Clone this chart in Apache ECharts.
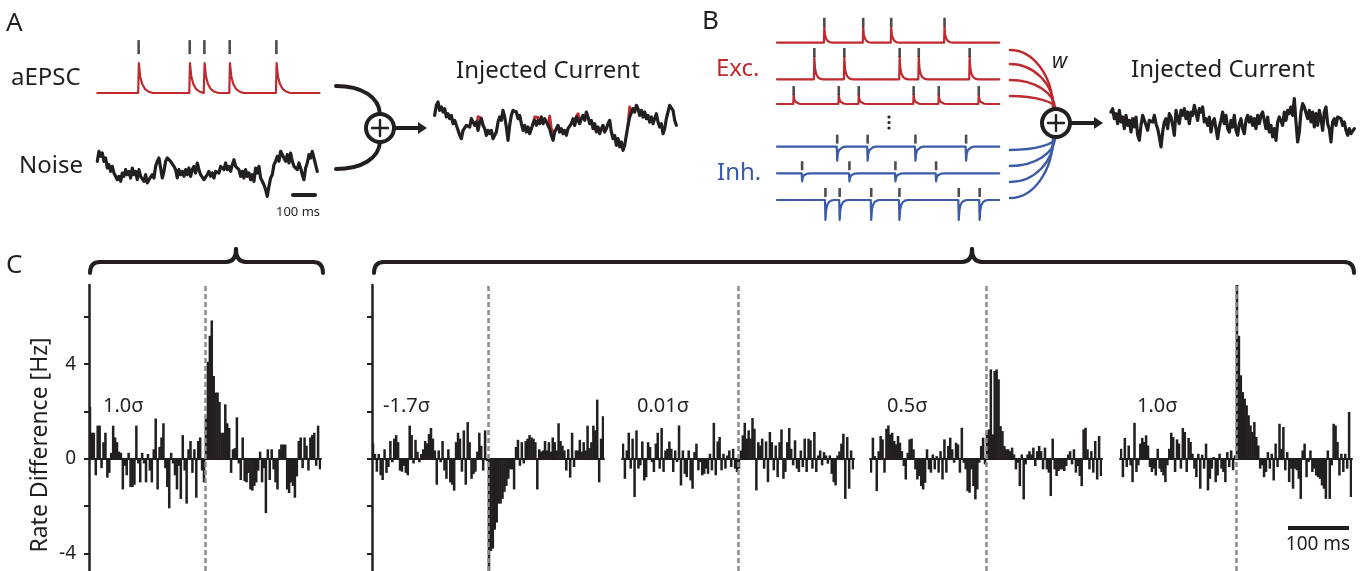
<!DOCTYPE html>
<html>
<head>
<meta charset="utf-8">
<script src="https://cdn.jsdelivr.net/npm/echarts@6/dist/echarts.min.js"></script>
<style>
html, body { margin: 0; padding: 0; background: #fff; }
#chart { width: 1362px; height: 571px; }
</style>
</head>
<body>
<div id="chart"></div>
<script>
// ---------- data ----------
// A: noise trace, injected current (7.5 ms samples, arbitrary current units)
var noiseA = [3,6,4.5,5.5,3,4,1,2,0,1.5, -0.5,-1,-2.5,-1.5,-3,-0.5,-1.5,0.5,-1,0, -2,1,-1,0,-2.5,0.5,-1.5,-1,-3,-1,
  -3.5,-2.5,-3,-1,-2,1.5,3,4,1,-2, 0,3,4,4.5,3,2.5,1.5,0.5,-2,0.5, -1,0,-1.5,0.5,-1,1,-1.5,0.5,1.5,-0.5,
  2.5,0.5,-1,-0.5,-2.5,-3,-1,0,-1.5,-0.5, -2,0,0.5,-0.5,1.5,2,0.5,2.5,0.5,1.5, 0,2,3.5,1.5,2,0.5,-1.5,0,-2,0.5,
  -1.5,-0.5,-2.5,-1,-3,1,-0.5,1.5,-2,-3, -4,-5.5,-7.5,-4.5,-2,-1,2,3,4.5,3, 6,5,4,3,5,2.5,5.5,3,1.5,2,
  0.5,2.5,1,-1,-2.5,1,2.5,5,4,6, 4,2,0];
var injectedA = [3,6,7,4.5,5.5,4,5,2.5,3.5,2, 3,0.5,1.5,0,0.5,-3,-4,-1.5,-2,0, 0.5,-0.5,2,2.5,0,1,-1.5,1,2,0,
  -1,-3,-1.5,-2.5,-1.5,-4,-3,-2,1,2.5, 1.5,4.5,2.5,-0.5,-4.5,0,3,4.5,5,4, 2,3,0.5,-1.5,0,-2,-0.5,-2.5,-1,0.5,
  1.5,0,1.5,0.5,2.5,0.5,2,1,0,-1, -3,-4.5,-2,-1.5,0,-2,-1,-2.5,-1.5,-3, -1,-0.5,0.5,2,0,2.5,1.5,0.5,2,3,
  1.5,4,2.5,0.5,1.5,-1,0.5,-2,-0.5,-2.5, -1,0,-2,-1,0.5,1.5,-2,-4,-3,-6, -4,-6.5,-5,-7.5,-6,-3,0,2.5,2,5,
  4,6,5,3,4.5,2.5,4,2,3,1, 2.5,0.5,1,3.5,1,-0.5,0.5,-2.5,-1,2, 4,6,6.5,4.5,1.5,0];
// red aEPSC tips that show under the black injected trace: [sample index, value]
var injectedARed = [
  [[25,0],[26,2.6],[27,2.8],[28,2.2],[29,0]],
  [[59,0.5],[60,2.5],[61,2.6],[62,2.4],[63,0.5]],
  [[68,0],[69,2.8],[70,-1],[71,-2]],
  [[84,0],[85,2.6],[86,3.5],[87,1.5],[88,2]],
  [[116,0],[117,5.5],[118,4],[119,5]]
];
var aepscSpikes = [184, 414, 480, 594, 804];   // ms
// B: presynaptic spike times (ms) and weights
var excSpikes = [[211, 386, 512, 752], [166, 301, 550, 636, 865], [73, 276, 366, 613, 726, 906]];
var inhSpikes = [[269, 406, 621, 849], [111, 324, 531, 714], [216, 280, 422, 549, 816, 910]];
var excAmp = [0.57, 0.8, 0.32];
var inhAmp = [-0.5, -0.29, -0.71];
var injectedB = [4,5,2,3.5,0.5,4.5,1,2.5,-1,3, 0,1.5,-2,2,-0.5,2.5,-3,-4.5,0,3, 3.5,0,-1.5,1.5,2,1,3,0.5,-1,-3.5,
  -6.5,-2,1,2,-1,3.5,2.5,0,-3,4.5, 2,0.5,4.5,3,5,2,4,0.5,4,3, 6,5.5,1.5,5,4,5.5,1,2,0,2.5,
  -2,1,2,-1,-4,-0.5,1.5,4,0.5,3, -1,-2,1.5,-0.5,3,-1.5,-3,0.5,2,-1, -2.5,1.5,3,1,2.5,0,2,-1,3,0.5,
  3,4,1.5,-1,2.5,-2,0,-3.5,-1,-4.5, 1,2.5,3,0,4,1.5,4.5,3.5,5.5,3, 8,1,-5,-2,4,6.5,5.5,5,2,4.5,
  1,4,-0.5,3.5,0,4.5,2,-1.5,4,5.5, 0.5,-1,-5,1,2,0,2.5,3,2,0, 1,-1.5,-3,-1,-2.5,-2,-1];
// EPSC shapes: time after spike (ms) and relative size
var kernelAT = [0, 3, 9, 18, 30, 45, 65];
var kernelAV = [0, 1, 0.55, 0.3, 0.14, 0.05, 0];
var kernelBT = [0, 2, 5, 10, 17, 27, 40];
var kernelBV = [0, 1, 0.5, 0.25, 0.11, 0.03, 0];

// C: rate difference [Hz], 3 ms bins, 60 before and 60 after the event
var panelLabels = ['1.0σ', '-1.7σ', '0.01σ', '0.5σ', '1.0σ'];
var ratePre = [
  [2.2,1.1,1.1,-0.7,1.4,1.4,-0.4,0.7,1.1,-0.8, -0.6,0.25,1.4,0.9,0.7,0.3,0.25,-1.3,-0.3,-0.7, 0.25,-1.2,-1.2,-1.1,1.4,-0.2,-1.0,0.25,-0.2,-1.0,
   0.2,-0.5,-1.0,0.4,1.7,-1.3,0.5,0.9,1.5,-0.4, -1.2,-2.1,0.25,-0.2,-0.7,-1.3,-0.3,-1.7,1.0,-0.5, -1.9,0.4,0.75,-0.6,0.4,-1.65,0.75,0.9,-0.5,-1.0],
  [0.65,0.2,-0.55,0.2,-0.7,-0.9,0.4,-0.6,-0.35,0.75, -0.15,0.85,1.0,0.7,-0.5,-0.55,-0.3,-0.6,-0.7,1.4, 1.0,-0.2,0.8,0.3,-0.15,0.2,0.4,0.75,0.65,1.05,
   1.3,0.85,0.35,-1.1,0.35,-0.15,0.75,-0.5,-0.85,0.4, -1.0,-1.1,-1.35,0.7,1.1,0.85,-0.55,1.2,-1.1,1.55, 0.7,-0.85,-0.65,-0.55,0.3,1.1,0.55,-0.5,1.2,-0.1],
  [0.64,-0.85,0.35,1.1,-0.42,0.85,-1.62,1.2,-0.42,-0.28, 0.73,-0.92,-0.78,0.7,0.5,-0.14,-0.56,0.64,1.1,-0.42, 1.3,-0.56,0.35,0.42,0.73,0.42,-0.56,0.35,-0.14,1.41,
   -1.13,0.35,-0.64,-0.78,0.35,-0.92,-1.27,0.28,0.64,-0.49, -0.14,-0.7,-0.64,-0.42,-0.64,0.21,-0.49,1.52,-0.7,0.73, 0.92,-0.49,0.21,-0.42,0.14,0.35,-0.35,0.42,-0.42,-0.56],
  [-0.59,0.89,0.11,-1.37,0.32,0.96,0.82,-0.59,1.27,1.41, 1.03,1.1,0.75,0.61,0.96,0.68,0.32,-0.31,-0.88,0.25, 0.82,0.85,0.4,-0.45,-0.88,-0.73,-1.16,-1.3,-1.02,0.4,
   -0.45,-0.59,0.18,-0.45,0.11,-0.59,0.32,-0.88,0.82,-0.59, 0.54,0.89,0.4,-0.17,0.68,0.61,-0.59,1.31,-0.17,-0.45, -1.37,-1.44,-0.45,-1.16,-1.72,-1.3,-0.17,0.54,0.89,-0.24],
  [0.42,-0.78,0.88,-0.35,0.56,-0.28,-0.99,1.52,-0.56,-0.28, 0.64,0.88,0.71,0.99,0.56,-0.35,-0.56,-0.42,-0.71,0.42, -0.42,-0.56,-0.71,-0.99,-0.28,0.42,1.1,0.92,-0.56,0.82,
   0.64,-0.42,1.3,1.13,-0.56,0.88,0.71,0.21,-0.42,-0.78, 0.21,-1.27,0.17,-0.42,0.64,-1.34,-0.85,-0.42,0.07,-0.99, -0.71,0.21,-0.42,-0.56,-0.99,0.28,-0.35,0.35,-0.49,0.14]
];
var ratePost = [
  [1.7,4.1,5.2,5.85,3.5,2.8,2.8,2.4,1.1,1.1, 2.3,1.5,1.3,-0.6,0.4,0.45,1.75,-0.2,-0.9,0.9, -0.95,-1.0,-0.6,-1.3,-1.35,-1.15,-1.0,-0.5,0.3,-1.0,
   -0.4,-2.3,0.4,-0.9,0.4,-0.45,-1.0,-1.3,0.4,0.6, 0.6,0.6,-1.3,-1.45,-1.0,-1.15,-1.65,-0.75,0.75,0.9, -0.4,0.9,0.55,-0.5,0.9,1.0,1.1,-0.3,1.4,-0.45],
  [-4.9,-3.9,-3.8,-3.0,-2.7,-1.9,-1.9,-1.7,-1.4,-1.15, -0.85,-0.45,-0.45,-1.3,0.5,0.8,-0.3,0.7,-0.2,0.75, 0.85,1.0,0.9,0.85,0.7,-1.3,0.4,0.3,0.35,0.75,
   0.35,0.7,0.3,0.9,0.7,0.35,1.5,0.75,0.55,0.35, -0.5,0.4,-0.8,1.1,-0.35,0.35,0.35,0.8,0.3,0.7, 0.35,1.4,0.45,0.7,1.4,1.2,2.5,-1.0,0.85,1.8],
  [-0.42,0.35,0.99,1.52,0.85,1.2,0.85,1.72,1.27,-1.34, 0.7,0.56,0.85,-0.42,0.73,-0.99,1.13,0.7,-0.49,0.56, -0.78,0.7,1.24,-0.85,-0.56,0.7,1.3,0.42,-0.28,0.78,
   -0.42,-0.56,0.35,-0.35,0.85,-0.56,0.85,0.78,-0.42,1.13, -0.56,0.14,0.35,-0.28,0.28,0.14,-0.21,0.14,-0.64,-0.99, -1.13,0.14,0.31,0.64,1.06,-1.7,0.92,-1.27,0.35,-0.45],
  [1.1,1.24,3.78,1.03,3.71,3.78,3.36,1.38,1.17,0.54, 0.4,0.4,0.32,0.47,0.18,-0.45,-0.17,-1.16,0.18,-1.72, -0.24,0.18,0.32,0.18,0.47,-0.31,0.32,0.54,0.32,-0.45,
   0.47,-0.45,-0.59,-1.58,0.85,-0.45,-0.73,-0.52,-0.45,-0.45, -0.52,-0.31,0.18,0.32,-0.24,0.4,-0.59,-0.31,-0.73,-1.16, 1.24,1.31,0.4,-0.45,0.32,-0.59,0.75,-0.88,0.96,-0.73],
  [7.4,5.2,3.53,2.82,2.54,2.26,1.84,1.41,1.13,1.55, 0.92,0.56,-0.42,-0.28,-0.78,-0.56,0.28,-0.42,0.21,-0.92, 0.64,-0.35,1.48,0.42,1.34,-0.49,0.28,-0.99,-0.42,-1.27,
   -0.42,-0.49,-0.85,-1.7,0.35,0.64,-0.78,-0.14,0.35,-0.56, -0.42,-0.71,-0.78,-0.85,-1.13,-1.27,-1.7,0.35,-1.7,-0.28, 1.48,1.41,0.71,-0.71,0.21,-0.56,0.21,-0.42,1.98,-1.62]
];
var yTicks = [-4, -2, 0, 2, 4, 6];
var yTickLabels = [-4, 0, 4];

// ---------- layout ----------
var FONT = '"Noto Sans", "DejaVu Sans", sans-serif';
var INK = '#231f20', RED = '#be2a2e', BLUE = '#3a5ba8', GREY = '#8c8c8c';
var DT = 7.5, PX_MS = 0.2222, BIN = 3;

var grids = [], xAxes = [], yAxes = [], series = [];
function addGrid(g, x, y) {
  grids.push(g);
  var i = grids.length - 1;
  x.gridIndex = i; y.gridIndex = i;
  xAxes.push(x); yAxes.push(y);
  return i;
}
function hidden(min, max) { return { type: 'value', show: false, min: min, max: max }; }
function line(gi, data, color, width, z) {
  series.push({ type: 'line', xAxisIndex: gi, yAxisIndex: gi, data: data, symbol: 'none', z: z || 2,
    lineStyle: { color: color, width: width, cap: 'round', join: 'round' }, silent: true });
}
function ticks(gi, spikes, level, h) {
  series.push({ type: 'scatter', xAxisIndex: gi, yAxisIndex: gi, symbol: 'rect', symbolSize: [2.6, h],
    data: spikes.map(function (s) { return [s + 2, level]; }), itemStyle: { color: INK }, silent: true });
}
function sampled(arr) { return arr.map(function (v, i) { return [i * DT, v]; }); }
function epsc(spikes, amp, kT, kV, tEnd) {
  var pts = [[0, 0]];
  spikes.forEach(function (s) {
    kT.forEach(function (t, j) { pts.push([s + t, amp * kV[j]]); });
  });
  pts.push([tEnd, 0]);
  return pts;
}
function traceGrid(left, top, height, n, ymin, ymax) {
  var span = (n - 1) * DT;
  return addGrid({ left: left, top: top, width: span * PX_MS, height: height }, hidden(0, span), hidden(ymin, ymax));
}

// A: aEPSC
var gA = addGrid({ left: 97.3, top: 36, width: 1000 * PX_MS, height: 60 }, hidden(0, 1000), hidden(-0.1, 1.9));
line(gA, epsc(aepscSpikes, 1, kernelAT, kernelAV, 1000), RED, 2.2);
ticks(gA, aepscSpikes, 1.53, 14);
// A: noise and injected current
line(traceGrid(97.3, 138, 64, noiseA.length, -9.2, 10), sampled(noiseA), INK, 3.2);
var gInjA = traceGrid(434.7, 92, 64, injectedA.length, -9.2, 10);
injectedARed.forEach(function (seg) {
  line(gInjA, seg.map(function (p) { return [p[0] * DT, p[1]]; }), RED, 2.8, 1);
});
line(gInjA, sampled(injectedA), INK, 3.2, 3);
// B: presynaptic trains
var rowBase = [42.7, 79.3, 104, 146.7, 173.3, 200];
[0, 1, 2].forEach(function (r) {
  var gi = addGrid({ left: 777, top: rowBase[r] - 32, width: 1000 * PX_MS, height: 56 }, hidden(0, 1000), hidden(-0.857, 1.143));
  line(gi, epsc(excSpikes[r], excAmp[r], kernelBT, kernelBV, 1000), RED, 2.2);
  ticks(gi, excSpikes[r], excAmp[r] + 0.16, 9);
});
[0, 1, 2].forEach(function (r) {
  var gi = addGrid({ left: 777, top: rowBase[r + 3] - 32, width: 1000 * PX_MS, height: 56 }, hidden(0, 1000), hidden(-0.857, 1.143));
  line(gi, epsc(inhSpikes[r], inhAmp[r], kernelBT, kernelBV, 1000), BLUE, 2.2);
  ticks(gi, inhSpikes[r], 0.27, 9);
});
line(traceGrid(1111, 92, 64, injectedB.length, -9.2, 10), sampled(injectedB), INK, 3.2);

// C: rate difference histograms, one rect per bin (slightly overlapping so runs read as solid)
function binRect(params, api) {
  var x = api.value(0), v = api.value(1);
  var a = api.coord([x - BIN / 2, v]), b = api.coord([x + BIN / 2, 0]);
  return { type: 'rect', shape: { x: a[0] - 0.3, y: Math.min(a[1], b[1]), width: b[0] - a[0] + 0.6, height: Math.abs(b[1] - a[1]) },
    style: { fill: INK } };
}
var panelLeft = [89, 372, 622, 870, 1120];
panelLeft.forEach(function (left, p) {
  var gi = addGrid({ left: left, top: 285, width: 232, bottom: 0 },
    { type: 'value', min: -180, max: 180,
      axisLine: { show: true, onZero: true, lineStyle: { color: INK, width: 2 } },
      axisTick: { show: false }, axisLabel: { show: false }, splitLine: { show: false } },
    { type: 'value', min: -4.75, max: 7.35,
      axisLine: { show: p < 2, onZero: false, lineStyle: { color: INK, width: 2.5 } },
      axisTick: { show: p < 2, customValues: yTicks, length: 5, lineStyle: { color: INK, width: 2 } },
      axisLabel: { show: p === 0, customValues: yTickLabels, margin: 13, color: INK, fontSize: 19, fontFamily: FONT },
      splitLine: { show: false } });
  var pre = ratePre[p], post = ratePost[p];
  var data = pre.map(function (v, i) { return [(i - pre.length + 0.5) * BIN, v]; })
    .concat(post.map(function (v, i) { return [(i + 0.5) * BIN, v]; }));
  series.push({ type: 'custom', xAxisIndex: gi, yAxisIndex: gi, data: data, renderItem: binRect, clip: true, z: 3,
    encode: { x: 0, y: 1 }, silent: true,
    markLine: { silent: true, symbol: 'none', label: { show: false }, animation: false,
      lineStyle: { color: GREY, type: [5, 3], width: 2.5 }, data: [{ xAxis: 0 }] } });
});

// ---------- annotations ----------
function txt(x, y, s, size, opts) {
  opts = opts || {};
  return { type: 'text', x: x, y: y, rotation: opts.rot || 0, z: 10, silent: true,
    style: { text: s, fill: opts.color || INK, fontSize: size, fontFamily: FONT, fontStyle: opts.italic ? 'italic' : 'normal',
      align: opts.align || 'left', textAlign: opts.align || 'left', verticalAlign: 'middle', textVerticalAlign: 'middle' } };
}
function stroke(color, w) { return { stroke: color, lineWidth: w, fill: null, lineCap: 'round' }; }
function seg(x1, y1, x2, y2, w) {
  return { type: 'line', silent: true, shape: { x1: x1, y1: y1, x2: x2, y2: y2 }, style: stroke(INK, w) };
}
function quad(x1, y1, cx, cy, x2, y2) {
  return { type: 'bezierCurve', silent: true, shape: { x1: x1, y1: y1, cpx1: cx, cpy1: cy, x2: x2, y2: y2 }, style: stroke(INK, 4) };
}
function brace(x0, x1, tip) {
  var y = 262;
  return [quad(x0, 273, x0, y, x0 + 10, y), seg(x0 + 10, y, tip - 10, y, 4), quad(tip - 10, y, tip, y, tip, 249),
    quad(tip, 249, tip, y, tip + 10, y), seg(tip + 10, y, x1 - 10, y, 4), quad(x1 - 10, y, x1, y, x1, 273)];
}
function curve(x1, y1, x2, y2, color) {
  return { type: 'bezierCurve', silent: true, shape: { x1: x1, y1: y1, cpx1: x1 + 0.55 * (x2 - x1), cpy1: y1,
    cpx2: x2, cpy2: y2 - 0.55 * (y2 - y1), x2: x2, y2: y2 }, style: stroke(color, 2.4) };
}
function summer(cx, cy) {
  return [
    { type: 'circle', silent: true, z: 5, shape: { cx: cx, cy: cy, r: 14 }, style: { stroke: INK, lineWidth: 4, fill: '#fff' } },
    { type: 'line', silent: true, z: 6, shape: { x1: cx - 8, y1: cy, x2: cx + 8, y2: cy }, style: stroke(INK, 2.4) },
    { type: 'line', silent: true, z: 6, shape: { x1: cx, y1: cy - 8, x2: cx, y2: cy + 8 }, style: stroke(INK, 2.4) },
    { type: 'line', silent: true, z: 5, shape: { x1: cx + 15, y1: cy, x2: cx + 40, y2: cy }, style: stroke(INK, 4) },
    { type: 'polygon', silent: true, z: 5, shape: { points: [[cx + 38, cy - 6], [cx + 47, cy], [cx + 38, cy + 6]] }, style: { fill: INK } }
  ];
}
var gfx = [
  txt(6, 24, 'A', 26), txt(702, 22, 'B', 26), txt(6, 266, 'C', 26),
  txt(11, 78, 'aEPSC', 24), txt(19, 166, 'Noise', 24),
  txt(456, 71, 'Injected Current', 24), txt(1131, 70, 'Injected Current', 24),
  txt(716, 69, 'Exc.', 24, { color: RED }), txt(717, 173, 'Inh.', 24, { color: BLUE }),
  txt(1052, 62, 'w', 21, { italic: true }),
  txt(298, 212, '100 ms', 13, { align: 'center' }),
  txt(1318, 545, '100 ms', 19, { align: 'center' }),
  txt(40, 445, 'Rate Difference [Hz]', 23, { align: 'center', rot: Math.PI / 2 }),
  seg(293, 195, 315, 195, 4),
  { type: 'line', silent: true, shape: { x1: 1288, y1: 528, x2: 1349, y2: 528 }, style: { stroke: INK, lineWidth: 4 } },
  // dots between the exc and inh trains
  { type: 'circle', silent: true, shape: { cx: 889, cy: 117, r: 1.6 }, style: { fill: INK } },
  { type: 'circle', silent: true, shape: { cx: 889, cy: 122.5, r: 1.6 }, style: { fill: INK } },
  { type: 'circle', silent: true, shape: { cx: 889, cy: 128, r: 1.6 }, style: { fill: INK } },
  // A combiner arcs
  { type: 'bezierCurve', silent: true, shape: { x1: 336, y1: 86, cpx1: 362, cpy1: 86, cpx2: 379, cpy2: 97, x2: 380, y2: 114 }, style: stroke(INK, 4) },
  { type: 'bezierCurve', silent: true, shape: { x1: 336, y1: 169, cpx1: 362, cpy1: 169, cpx2: 379, cpy2: 158, x2: 380, y2: 142 }, style: stroke(INK, 4) }
];
gfx = gfx.concat(brace(90, 323, 236), brace(374, 1354, 972));
panelLabels.forEach(function (s, p) { gfx.push(txt([103, 383, 637, 887, 1137][p], 406, s, 20)); });
[50, 64, 80, 96].forEach(function (y, k) { gfx.push(curve(1010, y, 1053 + k, 109, RED)); });
[150, 166, 182, 198].forEach(function (y, k) { gfx.push(curve(1010, y, 1056 - k, 137, BLUE)); });
gfx = gfx.concat(summer(380, 128), summer(1056, 123));

var chart = echarts.init(document.getElementById('chart'), null, { renderer: 'canvas' });
chart.setOption({
  animation: false,
  backgroundColor: '#fff',
  grid: grids, xAxis: xAxes, yAxis: yAxes, series: series,
  graphic: { elements: gfx }
});
</script>
</body>
</html>
